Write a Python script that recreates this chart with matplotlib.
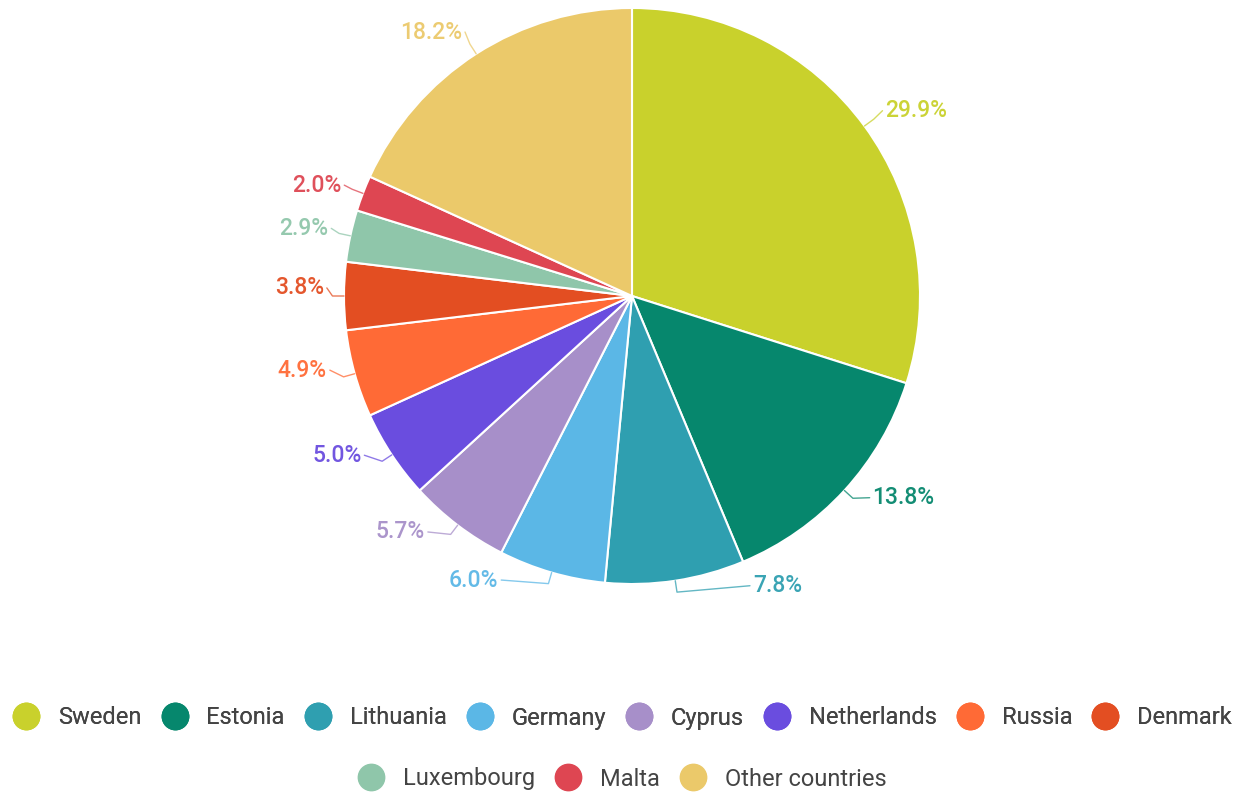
import numpy as np
import matplotlib
matplotlib.use("Agg")
import matplotlib.pyplot as plt
from matplotlib.lines import Line2D

countries = ["Sweden", "Estonia", "Lithuania", "Germany", "Cyprus", "Netherlands",
             "Russia", "Denmark", "Luxembourg", "Malta", "Other countries"]
shares = [29.9, 13.8, 7.8, 6.0, 5.7, 5.0, 4.9, 3.8, 2.9, 2.0, 18.2]
colors = ["#c9d12c", "#06876d", "#2f9fb0", "#5bb7e6", "#a78fc9", "#6a4ddf",
          "#ff6a36", "#e34e22", "#8fc6aa", "#de4652", "#ebc96a"]

plt.rcParams['font.family'] = ['Roboto', 'DejaVu Sans']

W, H, DPI = 1244, 794, 100
fig = plt.figure(figsize=(W / DPI, H / DPI), dpi=DPI)
ax = fig.add_axes([0, 0, 1, 1])

cx, cy, R = 632, 296, 288  # pixel geometry
wedges, _ = ax.pie(shares, colors=colors, startangle=90, counterclock=False,
                   radius=1, wedgeprops=dict(edgecolor="white", linewidth=1.5))
ax.set_xlim(-cx / R, (W - cx) / R)
ax.set_ylim(-(H - cy) / R, cy / R)
ax.set_aspect("auto")
ax.axis("off")

# small angular nudges for label placement (degrees)
nudge = {1: 2.5, 2: 14, 3: -9, 4: -4, 5: -3, 6: -2, 7: -1.5, 8: -0.5}
radial = {7: 1.07, 8: 1.08, 9: 1.08}
for i, w in enumerate(wedges):
    mid = (w.theta1 + w.theta2) / 2
    a = np.deg2rad(mid)
    la = np.deg2rad(mid + nudge.get(i, 0))
    rr = radial.get(i, 1.09)
    p0 = (np.cos(a) * 1.0, np.sin(a) * 1.0)
    p1 = (np.cos(a) * 1.04, np.sin(a) * 1.04)
    tx, ty = np.cos(la) * rr, np.sin(la) * rr
    right = tx >= 0
    p2 = (tx - (0.01 if right else -0.01), ty)
    ax.plot([p0[0], p1[0], p2[0]], [p0[1], p1[1], p2[1]], color=colors[i],
            lw=1.0, alpha=0.75, solid_capstyle="round")
    ax.text(tx, ty, f"{shares[i]:.1f}%", color=colors[i], fontsize=16.5,
            fontweight="medium", ha="left" if right else "right", va="center",
            alpha=0.95)

def handle(c):
    return Line2D([], [], marker="o", linestyle="", markersize=19,
                  markerfacecolor=c, markeredgecolor=c)

h = [handle(c) for c in colors]
common = dict(loc="center", frameon=False, fontsize=17, handletextpad=0.75,
              columnspacing=0.8, labelcolor="#444444", handlelength=1.2)
leg1 = fig.legend(h[:8], countries[:8], ncol=8,
                  bbox_to_anchor=(0.5, 1 - 718 / H), **common)
fig.add_artist(leg1)
leg2 = fig.legend(h[8:], countries[8:], ncol=3,
                  bbox_to_anchor=(0.5, 1 - 779 / H), **common)

fig.savefig("out.png", dpi=DPI, facecolor="white")
